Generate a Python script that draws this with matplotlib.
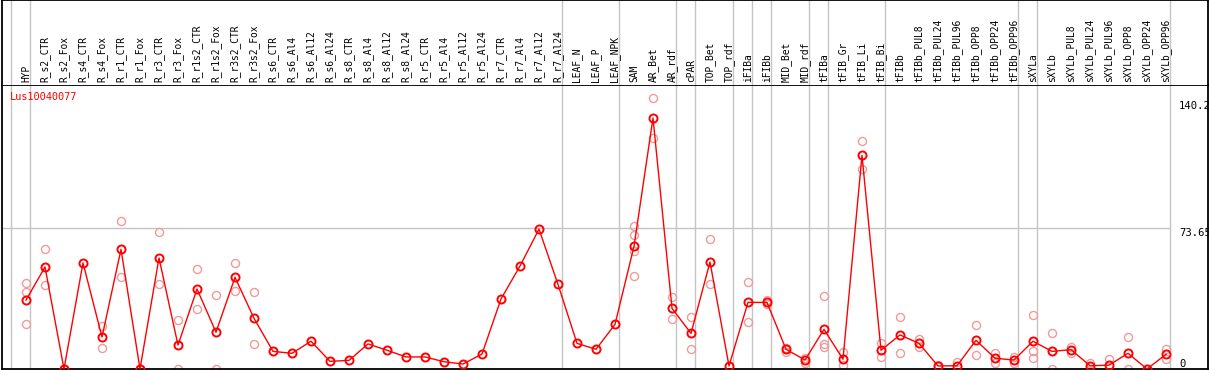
import numpy as np
import matplotlib
matplotlib.use("Agg")
import matplotlib.pyplot as plt

# nombres de las muestras (cabecera)
etiquetas = [
    "HYP", "R_s2_CTR", "R_s2_Fox", "R_s4_CTR", "R_s4_Fox", "R_r1_CTR", "R_r1_Fox",
    "R_r3_CTR", "R_r3_Fox", "R_r1s2_CTR", "R_r1s2_Fox", "R_r3s2_CTR", "R_r3s2_Fox",
    "R_s6_CTR", "R_s6_Al4", "R_s6_Al12", "R_s6_Al24", "R_s8_CTR", "R_s8_Al4",
    "R_s8_Al12", "R_s8_Al24", "R_r5_CTR", "R_r5_Al4", "R_r5_Al12", "R_r5_Al24",
    "R_r7_CTR", "R_r7_Al4", "R_r7_Al12", "R_r7_Al24", "LEAF_N", "LEAF_P", "LEAF_NPK",
    "SAM", "AR_Bet", "AR_rdf", "cPAR", "TOP_Bet", "TOP_rdf", "iFIBa", "iFIBb",
    "MID_Bet", "MID_rdf", "tFIBa", "tFIB_Gr", "tFIB_Li", "tFIB_Bi", "tFIBb",
    "tFIBb_PUL8", "tFIBb_PUL24", "tFIBb_PUL96", "tFIBb_OPP8", "tFIBb_OPP24", "tFIBb_OPP96",
    "sXYLa", "sXYLb", "sXYLb_PUL8", "sXYLb_PUL24", "sXYLb_PUL96", "sXYLb_OPP8",
    "sXYLb_OPP24", "sXYLb_OPP96",
]

# valor medio por muestra
medias = [
    36.0, 53.3, 0, 55.4, 16.7, 62.5, 0, 58.0, 12.5, 41.8,
    19.2, 47.9, 26.5, 9.2, 8.2, 14.5, 4.0, 4.5, 13.1, 9.8,
    6.3, 6.3, 3.8, 2.6, 7.8, 36.6, 53.8, 73.1, 44.2, 13.4,
    10.3, 23.3, 64.1, 131.1, 31.7, 18.6, 55.9, 1.6, 34.8, 34.8,
    10.3, 4.7, 20.7, 5.1, 111.6, 9.8, 17.8, 13.4, 1.6, 1.7,
    15.0, 5.6, 4.7, 14.5, 9.2, 10.1, 1.7, 2.0, 8.2, 0, 7.7,
]

# replicas por muestra
replicas = [
    [45.0, 40.2, 23.3], [62.5, 43.7], [0, 0], [], [22.6, 10.8], [77.2, 47.9], [0, 0],
    [71.4, 44.4], [25.6, 0], [52.1, 31.2], [38.5, 0], [55.2, 40.6], [40.1, 12.9],
    [], [], [], [], [], [], [], [], [], [], [], [], [], [], [], [], [], [], [],
    [74.7, 69.8, 61.8, 48.4], [141.6, 120.7], [37.6, 26.1], [27.2, 10.3], [67.8, 44.2],
    [], [45.5, 24.6], [36.0, 33.8], [9.0, 10.8], [5.9, 3.3], [38.0, 13.1, 11.3],
    [8.9, 2.3], [119.1, 104.3], [13.4, 6.4], [27.2, 8.2], [15.8, 11.3], [2.3], [3.7],
    [22.8, 7.1], [8.4, 3.0], [6.1, 3.0], [28.0, 9.4, 5.7], [18.6, 0], [11.6, 8.5],
    [3.3], [5.0], [16.6, 0], [], [10.6, 5.1],
]

# ultima muestra de cada grupo (separadores verticales)
fin_grupo = [-1, 0, 28, 31, 34, 35, 37, 38, 39, 41, 42, 45, 52, 53, 60]

y_ticks = [0, 73.65, 140.2]
y_tick_labels = ["0", "73.65", "140.2"]
titulo = "Lus10040077"

W, H = 1209, 370
FUENTE = "DejaVu Sans Mono"
GRIS = "#c4c4c4"

fig = plt.figure(figsize=(W / 100, H / 100), dpi=100)
ax = fig.add_axes([2 / W, 1 / H, 1206 / W, 284 / H])
hdr = fig.add_axes([2 / W, 285 / H, 1206 / W, 85 / H])

x = np.arange(len(etiquetas))
xmin = -24 / 19
xmax = xmin + 1206 / 19
for a in (ax, hdr):
    a.set_xlim(xmin, xmax)
    for b in fin_grupo:
        a.axvline(b + 0.22, color=GRIS, lw=1.0, zorder=0)
    for s in a.spines.values():
        s.set_linewidth(1.3)
        s.set_color("black")
    a.set_xticks([])

ax.set_ylim(0, 284 / 1.914)
ax.hlines(73.65, xmin, fin_grupo[-1] + 0.22, color=GRIS, lw=1.0, zorder=0)

# replicas
for i, reps in enumerate(replicas):
    if reps:
        ax.plot([i] * len(reps), reps, "o", mfc="none", mec="#f09a9a",
                ms=5.8, mew=1.0, zorder=2)

# medias
ax.plot(x, medias, color="red", lw=1.0, marker="o", mfc="none", mec="red",
        ms=5.8, mew=1.4, zorder=3)

ax.yaxis.tick_right()
ax.set_yticks(y_ticks)
ax.set_yticklabels(y_tick_labels, family=FUENTE, fontsize=7.6)
ax.tick_params(axis="y", length=0, pad=-29 * 0.72)
for lbl, va in zip(ax.get_yticklabels(), ["bottom", "top", "top"]):
    lbl.set_va(va)
    lbl.set_ha("left")

# cabecera con nombres rotados
hdr.set_ylim(0, 85)
hdr.set_yticks([])
hdr.spines["bottom"].set_visible(False)
for i, lab in enumerate(etiquetas):
    hdr.text(i, 2.5, lab, rotation=90, ha="center", va="bottom",
             family=FUENTE, fontsize=6.9, color="black")

fig.text(10 / W, 1 - 97 / H, titulo, color="red", ha="left", va="center",
         family=FUENTE, fontsize=7.4)

fig.savefig("out.png", dpi=100)
